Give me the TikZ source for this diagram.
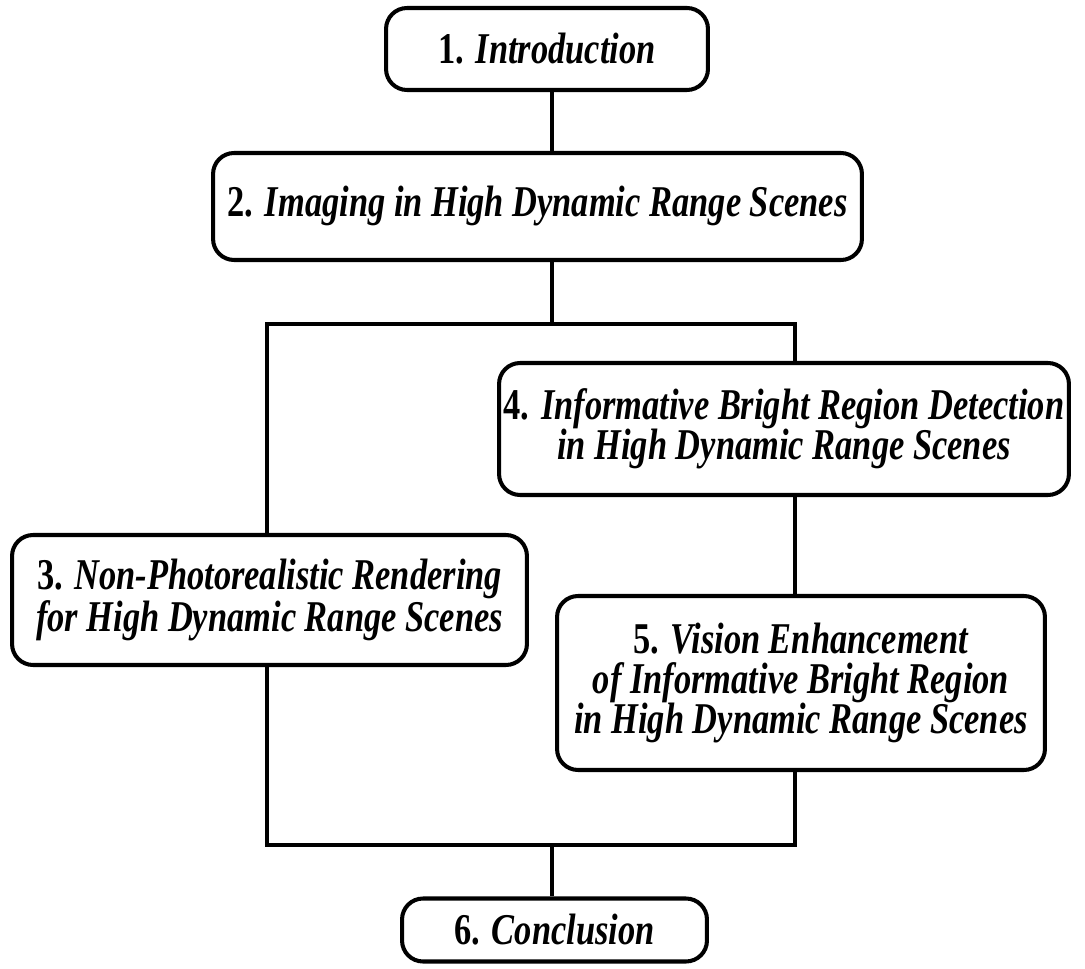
\documentclass[tikz,border=0pt]{standalone}
\usepackage{fontspec}
\setmainfont{Liberation Serif}[FakeStretch=0.784]
\usetikzlibrary{positioning}
\begin{document}
\begin{tikzpicture}[x=0.02cm,y=-0.02cm,
    sec/.style={draw,line width=2.3pt,rounded corners=0.42cm,align=center,inner sep=0pt,
      font=\fontsize{25}{22.7}\selectfont\bfseries},
    link/.style={line width=2.3pt}]
  \useasboundingbox (0,0) rectangle (1085,969);
  \node[sec,minimum width=6.44cm,minimum height=1.64cm] (intro) at (547,49) {1. \textit{Introduction}};
  \node[sec,minimum width=12.98cm,minimum height=2.14cm] (imaging) at (537.5,206.5) {2. \textit{Imaging in High Dynamic Range Scenes}};
  \node[sec,minimum width=11.4cm,minimum height=2.64cm] (detect) at (784,429) {4. \textit{Informative Bright Region Detection}\\\textit{in High Dynamic Range Scenes}};
  \node[sec,minimum width=10.3cm,minimum height=2.6cm] (npr) at (269.5,600) {3. \textit{Non-Photorealistic Rendering}\\\textit{for High Dynamic Range Scenes}};
  \node[sec,minimum width=9.76cm,minimum height=3.48cm] (vision) at (801,683) {5. \textit{Vision Enhancement}\\\textit{of Informative Bright Region}\\\textit{in High Dynamic Range Scenes}};
  \node[sec,minimum width=6.1cm,minimum height=1.26cm] (concl) at (554.5,930) {6. \textit{Conclusion}};
  \coordinate (split) at (552,324);
  \coordinate (join) at (552,845);
  \coordinate (lft) at (267,0);
  \coordinate (rgt) at (795,0);
  \draw[link] (intro.south -| split) -- (imaging.north -| split);
  \draw[link] (imaging.south -| split) -- (split);
  \draw[link] (lft |- npr.north) -- (lft |- split) -- (rgt |- split) -- (rgt |- detect.north);
  \draw[link] (rgt |- detect.south) -- (rgt |- vision.north);
  \draw[link] (lft |- npr.south) -- (lft |- join) -- (rgt |- join) -- (rgt |- vision.south);
  \draw[link] (join) -- (concl.north -| join);
\end{tikzpicture}
\end{document}
